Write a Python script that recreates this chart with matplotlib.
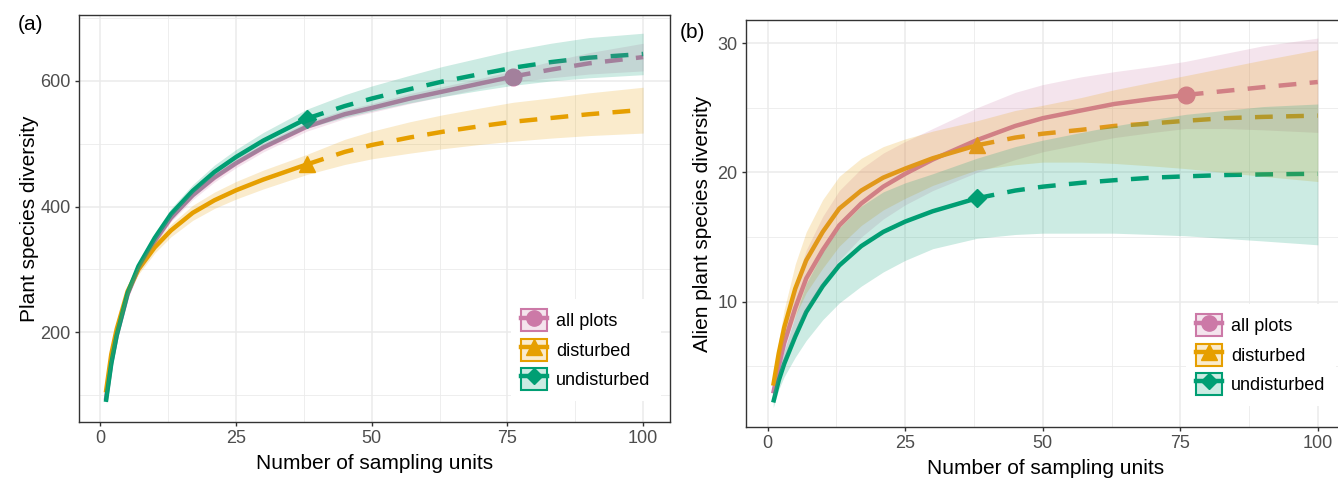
import numpy as np
import matplotlib
matplotlib.use("Agg")
import matplotlib.pyplot as plt
from matplotlib.lines import Line2D
from matplotlib.patches import Patch

plt.rcParams['font.family'] = ['Liberation Sans', 'DejaVu Sans']

# === Data ===
groups = ['all plots', 'disturbed', 'undisturbed']
colors = {'all plots': '#CC79A7', 'disturbed': '#E69F00', 'undisturbed': '#009E73'}
markers = {'all plots': 'o', 'disturbed': '^', 'undisturbed': 'D'}
n_obs = {'all plots': 76, 'disturbed': 38, 'undisturbed': 38}

x_units = [1, 2, 3, 5, 7, 10, 13, 17, 21, 25, 30, 38, 45, 50, 57, 63, 70, 76, 83, 90, 100]

# (a) all plant species
a_all_mid = [92, 152, 195, 260, 302, 345, 382, 418, 446, 469, 494, 527, 547, 557, 572, 583, 596, 607, 618, 628, 638]
a_all_lo = [90, 149, 191, 255, 296, 339, 376, 411, 439, 462, 487, 520, 540, 550, 564, 575, 588, 598, 605, 611, 616]
a_all_hi = [94, 155, 199, 265, 308, 351, 388, 425, 453, 476, 501, 534, 554, 564, 580, 591, 604, 616, 631, 645, 660]

a_dist_mid = [104, 165, 205, 265, 300, 335, 362, 390, 410, 426, 443, 467, 487, 498, 510, 519, 528, 535, 541, 547, 554]
a_dist_lo = [100, 160, 199, 258, 292, 326, 352, 378, 397, 412, 428, 451, 467, 476, 485, 492, 499, 504, 509, 513, 517]
a_dist_hi = [108, 170, 211, 272, 308, 344, 372, 402, 423, 440, 458, 483, 507, 520, 535, 546, 557, 566, 573, 581, 590]

a_und_mid = [89, 150, 195, 262, 305, 350, 388, 425, 455, 479, 505, 540, 560, 572, 587, 599, 611, 621, 630, 637, 643]
a_und_lo = [86, 146, 190, 256, 298, 342, 379, 415, 444, 467, 492, 525, 542, 552, 565, 575, 585, 593, 600, 605, 610]
a_und_hi = [92, 154, 200, 268, 312, 358, 397, 435, 466, 491, 518, 555, 578, 592, 609, 623, 637, 649, 660, 669, 676]

# (b) alien plant species
b_all_mid = [2.9, 5.0, 6.8, 9.5, 11.8, 14.0, 15.9, 17.6, 18.9, 19.9, 21.0, 22.5, 23.6, 24.2, 24.8, 25.3, 25.7, 26.0, 26.3, 26.6, 27.0]
b_all_lo = [2.5, 4.2, 5.6, 7.7, 9.5, 11.5, 13.2, 15.0, 16.4, 17.5, 18.6, 20.0, 21.0, 21.6, 22.2, 22.7, 23.1, 23.4, 23.4, 23.3, 23.1]
b_all_hi = [3.3, 5.8, 8.0, 11.4, 14.0, 16.6, 18.6, 20.3, 21.5, 22.4, 23.4, 25.0, 26.2, 26.8, 27.4, 27.8, 28.2, 28.6, 29.2, 29.8, 30.4]

b_dist_mid = [3.5, 6.0, 8.0, 11.0, 13.2, 15.4, 17.2, 18.6, 19.6, 20.3, 21.1, 22.1, 22.7, 23.0, 23.3, 23.6, 23.8, 24.0, 24.2, 24.3, 24.4]
b_dist_lo = [3.0, 5.0, 6.6, 8.9, 10.7, 12.6, 14.3, 15.9, 17.1, 18.0, 19.0, 20.2, 20.6, 20.8, 20.8, 20.7, 20.5, 20.3, 20.0, 19.7, 19.3]
b_dist_hi = [4.0, 7.0, 9.4, 12.9, 15.4, 17.9, 19.7, 21.1, 22.0, 22.6, 23.2, 24.0, 24.8, 25.2, 25.8, 26.4, 27.0, 27.5, 28.1, 28.7, 29.5]

b_und_mid = [2.2, 3.9, 5.2, 7.3, 9.2, 11.2, 12.8, 14.3, 15.4, 16.2, 17.0, 18.0, 18.6, 18.9, 19.2, 19.4, 19.6, 19.7, 19.8, 19.85, 19.9]
b_und_lo = [1.8, 3.2, 4.2, 5.7, 7.0, 8.6, 9.9, 11.2, 12.3, 13.2, 14.1, 14.9, 15.2, 15.3, 15.3, 15.3, 15.2, 15.1, 14.9, 14.7, 14.4]
b_und_hi = [2.6, 4.6, 6.2, 8.9, 11.4, 13.8, 15.7, 17.4, 18.5, 19.2, 19.9, 21.1, 22.0, 22.5, 23.1, 23.6, 24.1, 24.5, 24.8, 25.1, 25.3]

panel_a = {'all plots': (a_all_mid, a_all_lo, a_all_hi),
           'disturbed': (a_dist_mid, a_dist_lo, a_dist_hi),
           'undisturbed': (a_und_mid, a_und_lo, a_und_hi)}
panel_b = {'all plots': (b_all_mid, b_all_lo, b_all_hi),
           'disturbed': (b_dist_mid, b_dist_lo, b_dist_hi),
           'undisturbed': (b_und_mid, b_und_lo, b_und_hi)}


def draw_panel(ax, data, ylim, yticks, yminor, ylabel, ylabelpad):
    x = np.array(x_units)
    # lines + markers (ribbons go on top, like ggiNEXT)
    for g in groups:
        mid = np.array(data[g][0])
        n = n_obs[g]
        ax.plot(x[x <= n], mid[x <= n], color=colors[g], lw=3.2, zorder=2,
                solid_capstyle='butt')
        ax.plot(x[x >= n], mid[x >= n], color=colors[g], lw=3.2, zorder=2,
                dashes=(4, 3))
        ax.plot([n], [mid[x == n][0]], marker=markers[g], color=colors[g],
                ms=12 if markers[g] != 'D' else 9, zorder=2, ls='none')
    for g in groups:
        mid, lo, hi = data[g]
        ax.fill_between(x, lo, hi, color=colors[g], alpha=0.2, lw=0, zorder=3)

    ax.set_xlim(-3.95, 104.95)
    ax.set_ylim(*ylim)
    ax.set_xticks([0, 25, 50, 75, 100])
    ax.set_xticks([12.5, 37.5, 62.5, 87.5], minor=True)
    ax.set_yticks(yticks)
    ax.set_yticks(yminor, minor=True)
    ax.grid(which='major', color='#EBEBEB', lw=1.1, zorder=0)
    ax.grid(which='minor', color='#EBEBEB', lw=0.6, zorder=0)
    ax.set_axisbelow(True)
    for s in ax.spines.values():
        s.set_color('#333333')
        s.set_linewidth(1.0)
    ax.tick_params(which='major', length=3, width=1, color='#333333',
                   labelsize=13, labelcolor='#4D4D4D', pad=3)
    ax.tick_params(which='minor', length=0)
    ax.set_xlabel('Number of sampling units', fontsize=15, labelpad=5)
    ax.set_ylabel(ylabel, fontsize=15, labelpad=ylabelpad)

    handles = []
    for g in groups:
        patch = Patch(facecolor=colors[g], alpha=0.2, edgecolor='none')
        edge = Patch(facecolor='none', edgecolor=colors[g], lw=1.5)
        line = Line2D([], [], color=colors[g], lw=3.2,
                      marker=markers[g], ms=11 if markers[g] != 'D' else 8)
        handles.append((patch, edge, line))
    leg = ax.legend(handles, groups, loc='lower right', bbox_to_anchor=(1.0, 0.03),
                    fontsize=13, frameon=True, fancybox=False, framealpha=1,
                    edgecolor='none', facecolor='white', handlelength=1.4,
                    handleheight=1.5, handletextpad=0.5, labelspacing=0.4,
                    borderpad=0.6)
    leg.set_zorder(5)


fig = plt.figure(figsize=(13.38, 4.79), dpi=100)
W, H = 1338, 479
ax_a = fig.add_axes([79 / W, (H - 422) / H, (670 - 79) / W, (422 - 15) / H])
ax_b = fig.add_axes([746 / W, (H - 427) / H, (1345 - 746) / W, (427 - 20) / H])

draw_panel(ax_a, panel_a, (57, 705), [200, 400, 600], [100, 300, 500, 700],
           'Plant species diversity', 1)
draw_panel(ax_b, panel_b, (0.3, 31.8), [10, 20, 30], [5, 15, 25],
           'Alien plant species diversity', 4)

fig.text(18 / W, 1 - 25 / H, '(a)', fontsize=15, va='center', ha='left')
fig.text(680 / W, 1 - 32 / H, '(b)', fontsize=15, va='center', ha='left')

fig.savefig('out.png', dpi=100)
